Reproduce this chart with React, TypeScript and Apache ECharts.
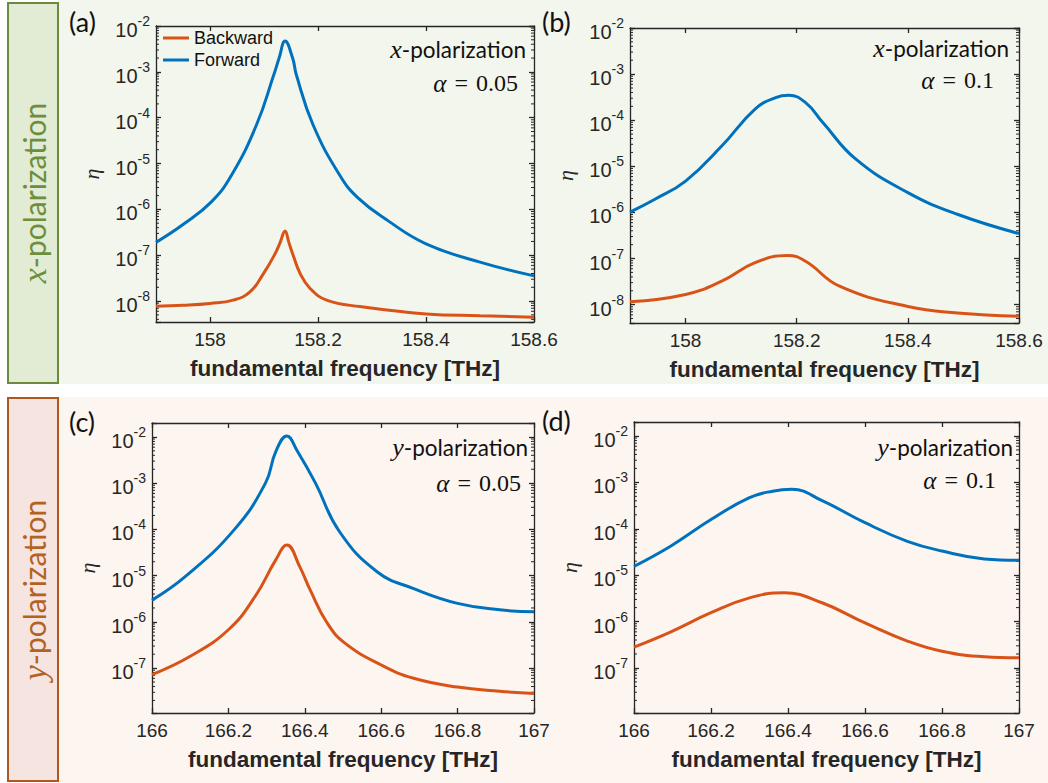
import React, { useEffect, useRef } from 'react';
import * as echarts from 'echarts';

// ---------- data ----------
const seriesNames = ['Backward', 'Forward'];

// (a) x-polarization, alpha = 0.05
const freqFwdA = [157.9, 157.95, 158.003, 158.04, 158.086, 158.118, 158.128, 158.139, 158.153, 158.16, 158.191, 158.24, 158.274, 158.33, 158.4, 158.5, 158.6];
const etaFwdA = [1.91e-7, 4.68e-7, 1.48e-6, 5.62e-6, 6.92e-5, 8.51e-4, 2.0e-3, 4.68e-3, 2.0e-3, 8.51e-4, 6.92e-5, 5.62e-6, 1.78e-6, 5.62e-7, 1.78e-7, 7.08e-8, 3.55e-8];
const freqBwdA = [157.9, 157.95, 158.0, 158.043, 158.074, 158.099, 158.12, 158.13, 158.139, 158.146, 158.154, 158.167, 158.185, 158.216, 158.278, 158.4, 158.5, 158.6];
const etaBwdA = [7.76e-9, 8.13e-9, 8.91e-9, 1.05e-8, 1.58e-8, 3.98e-8, 1.05e-7, 1.91e-7, 3.39e-7, 1.91e-7, 1.0e-7, 3.98e-8, 1.91e-8, 1.05e-8, 7.59e-9, 5.25e-9, 4.79e-9, 4.47e-9];

// (b) x-polarization, alpha = 0.1
const freqFwdB = [157.9, 157.944, 158.0, 158.065, 158.125, 158.162, 158.186, 158.216, 158.247, 158.307, 158.4, 158.489, 158.6];
const etaFwdB = [1.02e-6, 1.91e-6, 4.79e-6, 2.75e-5, 1.74e-4, 3.09e-4, 3.47e-4, 2.4e-4, 8.91e-5, 1.41e-5, 2.69e-6, 9.12e-7, 3.47e-7];
const freqBwdB = [157.9, 158.0, 158.065, 158.125, 158.183, 158.216, 158.277, 158.4, 158.489, 158.6];
const etaBwdB = [1.15e-8, 1.66e-8, 3.24e-8, 8.13e-8, 1.17e-7, 8.71e-8, 2.51e-8, 9.12e-9, 6.61e-9, 5.62e-9];

// (c) y-polarization, alpha = 0.05
const freqFwdC = [166.0, 166.09, 166.216, 166.297, 166.324, 166.353, 166.38, 166.428, 166.491, 166.59, 166.685, 166.8, 166.91, 167.0];
const etaFwdC = [2.95e-6, 1.0e-5, 1.0e-4, 1.0e-3, 4.79e-3, 1.05e-2, 5.01e-3, 1.0e-3, 8.9e-5, 1.2e-5, 5.25e-6, 2.51e-6, 1.82e-6, 1.66e-6];
const freqBwdC = [166.0, 166.099, 166.2, 166.27, 166.324, 166.353, 166.387, 166.414, 166.459, 166.505, 166.6, 166.685, 166.8, 166.91, 167.0];
const etaBwdC = [7.24e-8, 1.78e-7, 6.76e-7, 3.55e-6, 2.19e-5, 4.57e-5, 1.55e-5, 4.9e-6, 9.33e-7, 3.47e-7, 1.17e-7, 6.03e-8, 3.89e-8, 3.16e-8, 2.82e-8];

// (d) y-polarization, alpha = 0.1
const freqFwdD = [166.0, 166.096, 166.2, 166.3, 166.36, 166.41, 166.49, 166.6, 166.71, 166.8, 166.91, 167.0];
const etaFwdD = [1.55e-5, 4.27e-5, 1.58e-4, 4.68e-4, 6.46e-4, 7.08e-4, 3.98e-4, 1.35e-4, 5.37e-5, 3.31e-5, 2.24e-5, 2.09e-5];
const freqBwdD = [166.0, 166.096, 166.2, 166.3, 166.39, 166.49, 166.6, 166.71, 166.8, 166.91, 167.0];
const etaBwdD = [2.82e-7, 6.03e-7, 1.55e-6, 3.24e-6, 4.17e-6, 2.51e-6, 9.33e-7, 3.8e-7, 2.29e-7, 1.74e-7, 1.66e-7];

// tick labels
const xTicksX = [158, 158.2, 158.4, 158.6];
const xTicksY = [166, 166.2, 166.4, 166.6, 166.8, 167];
const panelTags = ['(a)', '(b)', '(c)', '(d)'];
const polLetters = ['x', 'x', 'y', 'y'];
const alphaValues = ['0.05', '0.1', '0.05', '0.1'];
const sideTexts = ['x', 'y'];
const xAxisTitle = 'fundamental frequency [THz]';
const yAxisTitle = 'η';

// ---------- styling / layout ----------
const SANS = '"Liberation Sans", Arial, sans-serif';
const HUMAN = 'Lato, "Open Sans", sans-serif';
const SERIF = '"Liberation Serif", "DejaVu Serif", serif';
const AX = '#262626';
const BLUE = '#0072BD';
const ORANGE = '#D95319';

const panels = [
  { grid: { left: 156, top: 26, width: 378, height: 296 }, xMin: 157.9, xMax: 158.6, yMin: 3.5e-9, yMax: 1e-2, xTicks: xTicksX,
    fwd: [freqFwdA, etaFwdA], bwd: [freqBwdA, etaBwdA],
    tag: [69, 21], pol: [526, 49], alpha: [518, 83] },
  { grid: { left: 630, top: 28, width: 389, height: 295 }, xMin: 157.9, xMax: 158.6, yMin: 4e-9, yMax: 1e-2, xTicks: xTicksX,
    fwd: [freqFwdB, etaFwdB], bwd: [freqBwdB, etaBwdB],
    tag: [542, 21], pol: [1009, 48], alpha: [994, 80] },
  { grid: { left: 152, top: 423, width: 382, height: 290 }, xMin: 166, xMax: 167, yMin: 1.07e-8, yMax: 2e-2, xTicks: xTicksY,
    fwd: [freqFwdC, etaFwdC], bwd: [freqBwdC, etaBwdC],
    tag: [69, 421], pol: [528, 447], alpha: [521, 483] },
  { grid: { left: 634, top: 422, width: 385, height: 291 }, xMin: 166, xMax: 167, yMin: 1.07e-8, yMax: 2e-2, xTicks: xTicksY,
    fwd: [freqFwdD, etaFwdD], bwd: [freqBwdD, etaBwdD],
    tag: [542, 420], pol: [1013, 447], alpha: [996, 480] },
];

function minorTickValues(yMin: number, yMax: number): number[] {
  const out: number[] = [];
  for (let e = -10; e <= 0; e++) {
    for (let k = 2; k <= 9; k++) {
      const v = k * Math.pow(10, e);
      if (v > yMin && v < yMax) out.push(v);
    }
  }
  return out;
}

function buildOption() {
  const lineStyle = { color: AX, width: 1.3 };
  const grid: any[] = [];
  const xAxis: any[] = [];
  const yAxis: any[] = [];
  const series: any[] = [];
  const graphic: any[] = [];

  const yRich = {
    b: { fontSize: 20, fontFamily: SANS, color: AX, lineHeight: 20, padding: [8, 0, 0, 0] },
    s: { fontSize: 14, fontFamily: SANS, color: AX, lineHeight: 14, padding: [2, 0, 12, 0] },
  };
  const yFormatter = (v: number) => {
    const e = Math.log10(v);
    const r = Math.round(e);
    if (Math.abs(e - r) > 0.01) return '';
    return `{b|10}{s|${r}}`;
  };

  panels.forEach((p, i) => {
    grid.push({ ...p.grid, show: false, containLabel: false, outerBoundsMode: 'none' });
    const baseX = {
      type: 'value', gridIndex: i, min: p.xMin, max: p.xMax,
      axisLine: { show: true, onZero: false, lineStyle },
      axisTick: { show: true, inside: true, length: 5, lineStyle, customValues: p.xTicks },
      splitLine: { show: false },
    };
    xAxis.push({
      ...baseX, position: 'bottom',
      axisLabel: { show: true, customValues: p.xTicks, margin: 8, fontSize: 19, fontFamily: SANS, color: AX,
        formatter: (v: number) => `${+v.toFixed(2)}` },
      name: xAxisTitle, nameLocation: 'middle', nameGap: 35, nameMoveOverlap: false,
      nameTextStyle: { fontSize: 22.5, fontWeight: 'bold', fontFamily: SANS, color: AX },
    });
    xAxis.push({ ...baseX, position: 'top', axisLabel: { show: false } });

    const baseY = {
      type: 'log', logBase: 10, gridIndex: i, min: p.yMin, max: p.yMax,
      axisLine: { show: true, onZero: false, lineStyle },
      axisTick: { show: true, inside: true, length: 5, lineStyle },
      splitLine: { show: false }, minorTick: { show: false }, minorSplitLine: { show: false },
    };
    yAxis.push({
      ...baseY, position: 'left',
      axisLabel: { show: true, margin: 6, formatter: yFormatter, rich: yRich, fontSize: 20, fontFamily: SANS, color: AX },
      name: yAxisTitle, nameLocation: 'middle', nameGap: 54, nameRotate: 90, nameMoveOverlap: false,
      nameTextStyle: { fontSize: 22, fontStyle: 'italic', fontFamily: SERIF, color: AX },
    });
    yAxis.push({ ...baseY, position: 'right', axisLabel: { show: false } });

    const mk = (name: string, pair: number[][], color: string) => ({
      type: 'line', name, xAxisIndex: 2 * i, yAxisIndex: 2 * i,
      data: pair[0].map((f, k) => [f, pair[1][k]]),
      showSymbol: false, symbol: 'none', smooth: 0.45,
      lineStyle: { color, width: 3 }, itemStyle: { color }, z: 3,
    });
    series.push(mk(seriesNames[0], p.bwd, ORANGE));
    series.push(mk(seriesNames[1], p.fwd, BLUE));

    const xMin = p.xMin, xMax = p.xMax;
    series.push({
      type: 'custom', name: 'minor' + i, xAxisIndex: 2 * i, yAxisIndex: 2 * i, silent: true, clip: false,
      data: minorTickValues(p.yMin, p.yMax).map((v) => [xMin, v]),
      encode: { x: 0, y: 1 },
      renderItem: (_params: any, api: any) => {
        const v = api.value(1);
        const a = api.coord([xMin, v]);
        const b = api.coord([xMax, v]);
        return {
          type: 'group',
          children: [
            { type: 'line', shape: { x1: a[0], y1: a[1], x2: a[0] + 3, y2: a[1] }, style: { stroke: AX, lineWidth: 1 } },
            { type: 'line', shape: { x1: b[0] - 3, y1: b[1], x2: b[0], y2: b[1] }, style: { stroke: AX, lineWidth: 1 } },
          ],
        };
      },
    });

    graphic.push({ type: 'text', x: p.tag[0], y: p.tag[1], style: { text: panelTags[i], fontFamily: HUMAN, fontSize: 27, fill: '#111', align: 'left', verticalAlign: 'middle' } });
    graphic.push({
      type: 'text', x: p.pol[0], y: p.pol[1],
      style: {
        text: `{i|${polLetters[i]}}-polarization`, fontFamily: HUMAN, fontSize: 22.5, fill: '#111', align: 'right', verticalAlign: 'middle',
        rich: { i: { fontFamily: SERIF, fontStyle: 'italic', fontSize: 26, fill: '#111' } },
      },
    });
    graphic.push({
      type: 'text', x: p.alpha[0], y: p.alpha[1],
      style: {
        text: `{i|α}\u2004=\u2004${alphaValues[i]}`, fontFamily: SERIF, fontSize: 24, fill: '#111', align: 'right', verticalAlign: 'middle',
        rich: { i: { fontFamily: SERIF, fontStyle: 'italic', fontSize: 25, fill: '#111' } },
      },
    });
  });

  const bg = [
    { type: 'rect', z: -20, shape: { x: 58, y: 0, width: 990, height: 384 }, style: { fill: '#f3f6ed' } },
    { type: 'rect', z: -20, shape: { x: 58, y: 397, width: 990, height: 386 }, style: { fill: '#fdf5f0' } },
    { type: 'rect', z: -19, shape: { x: 8, y: 3, width: 50, height: 380 }, style: { fill: '#e2ebd4', stroke: '#6a8a3c', lineWidth: 2 } },
    { type: 'rect', z: -19, shape: { x: 8, y: 398, width: 50, height: 383 }, style: { fill: '#f6e4e1', stroke: '#b0571d', lineWidth: 2 } },
    {
      type: 'text', x: 34, y: 193, rotation: Math.PI / 2,
      style: { text: `{i|${sideTexts[0]}}-polarization`, fontFamily: HUMAN, fontSize: 30, fill: '#6e8e3c', align: 'center', verticalAlign: 'middle',
        rich: { i: { fontFamily: SERIF, fontStyle: 'italic', fontSize: 34, fill: '#6e8e3c' } } },
    },
    {
      type: 'text', x: 34, y: 590, rotation: Math.PI / 2,
      style: { text: `{i|${sideTexts[1]}}-polarization`, fontFamily: HUMAN, fontSize: 30, fill: '#b3621f', align: 'center', verticalAlign: 'middle',
        rich: { i: { fontFamily: SERIF, fontStyle: 'italic', fontSize: 34, fill: '#b3621f' } } },
    },
  ];

  return {
    animation: false,
    backgroundColor: '#ffffff',
    grid, xAxis, yAxis, series,
    legend: {
      data: seriesNames, orient: 'vertical', left: 163, top: 29, itemGap: 4, itemWidth: 26, itemHeight: 3, icon: 'rect',
      padding: 0, textStyle: { fontSize: 18, fontFamily: SANS, color: '#111' },
    },
    graphic: [...bg, ...graphic],
  };
}

export default function App() {
  const ref = useRef<HTMLDivElement>(null);
  useEffect(() => {
    if (!ref.current) return;
    const chart = echarts.init(ref.current, undefined, { renderer: 'svg' });
    chart.setOption(buildOption() as any);
    return () => chart.dispose();
  }, []);
  return <div ref={ref} style={{ position: 'fixed', left: 0, top: 0, width: 1048, height: 783 }} />;
}
